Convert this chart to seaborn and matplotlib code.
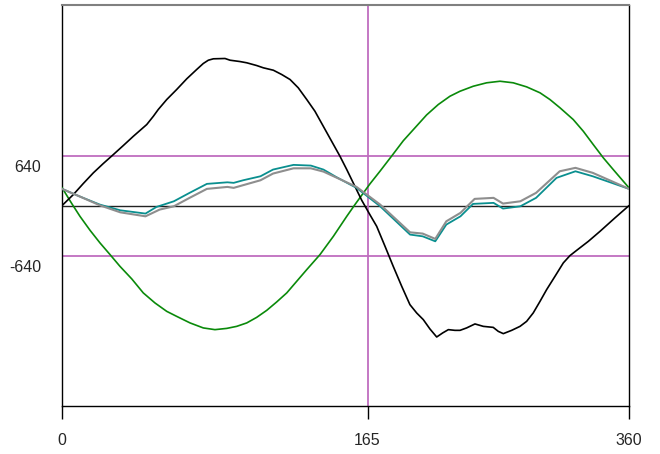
import numpy as np
import matplotlib
matplotlib.use("Agg")
import matplotlib.pyplot as plt
import matplotlib.transforms as mtransforms
import seaborn as sns

# Kurven (x in Grad, y in Rohwerten)
black_x = [0, 7.2, 13.5, 19.9, 26.2, 32.6, 38.9, 45.3, 53.8, 58.0, 61.1, 66.5, 72.8,
           79.2, 85.5, 89.7, 92.9, 96.1, 103.5, 106.7, 113.0, 117.3, 123.6, 127.8,
           134.2, 139.5, 144.8, 150.0, 155.4, 160.6, 165.9, 171.2, 176.5, 180.8,
           184.9, 190.3, 195.6, 199.8, 205.1, 210.3, 215.7, 220.9, 225.2, 229.4,
           233.6, 237.9, 241.7, 245.3, 249.5, 252.7, 256.9, 262.2, 267.5, 273.8,
           277.0, 280.2, 285.5, 290.8, 295.0, 299.2, 303.5, 307.7, 313.0, 318.3,
           322.5, 326.8, 334.2, 341.6, 351.1, 360]
black_y = [0, 141, 282, 419, 538, 653, 768, 887, 1037, 1143, 1229, 1357, 1485,
           1622, 1741, 1818, 1860, 1878, 1882, 1860, 1843, 1827, 1792, 1763,
           1732, 1677, 1613, 1507, 1357, 1207, 1015, 823, 631, 461,
           291, 68, -120, -265, -521, -777, -1033, -1267, -1374, -1459,
           -1578, -1681, -1629, -1587, -1596, -1596, -1565, -1514, -1545, -1558,
           -1609, -1638, -1596, -1545, -1481, -1373, -1225, -1075, -905, -733,
           -640, -572, -457, -329, -157, 0]

green_x = [0, 6.2, 11.4, 17.8, 24.1, 30.5, 36.8, 44.3, 51.6, 59.0, 66.5, 72.8, 81.3,
           89.7, 97.1, 104.6, 110.9, 117.3, 123.6, 130.0, 136.3, 142.7, 149.0,
           155.4, 163.8, 172.3, 180.8, 186.0, 195.6, 201.9, 210.3, 216.7, 224.1,
           231.5, 238.9, 246.3, 252.7, 261.1, 269.6, 278.1, 286.5, 295.0, 303.5,
           309.8, 316.2, 324.6, 331.0, 337.3, 343.7, 350.0, 356.4, 360]
green_y = [230, 26, -137, -316, -477, -627, -777, -938, -1117, -1245, -1353, -1417,
           -1501, -1565, -1587, -1571, -1545, -1501, -1430, -1340, -1233, -1117,
           -969, -819, -627, -393, -137, 13, 280, 440, 660, 830, 995,
           1160, 1293, 1399, 1463, 1527, 1571, 1591, 1571, 1519, 1443,
           1357, 1251, 1101, 951, 781, 611, 461, 311, 227]

teal_x = [0, 11, 24, 37, 53, 60, 71, 81, 92, 105, 109, 115, 126, 134, 147, 158,
          166, 174, 183, 187, 202, 221, 229, 237, 244, 253, 261, 274, 280, 291,
          301, 314, 326, 337, 360]
teal_y = [214, 119, 13, -60, -102, -17, 55, 163, 278, 298, 291, 324, 375, 461, 521,
          512, 461, 367, 269, 227, -9, -371, -393, -457, -243, -137, 22, 35, -38,
          -9, 99, 355, 439, 375, 214]

gray_x = [0, 11, 24, 37, 53, 62, 71, 81, 92, 105, 109, 126, 134, 147, 158, 166,
          177, 187, 202, 221, 229, 237, 244, 253, 262, 274, 280, 291, 301, 316,
          326, 337, 360]
gray_y = [214, 119, 4, -86, -137, -51, -9, 99, 214, 239, 227, 324, 410, 477, 477,
          435, 333, 239, 13, -342, -358, -426, -201, -93, 86, 99, 26, 55, 163, 439,
          483, 419, 214]

# Achsen / Referenzlinien
x_ticks = [0, 194, 360]
x_labels = ["0", "165", "360"]
y_ticks = [640, -640]
y_labels = ["640", "-640"]
limit_lines = [640, -640]
marker_x = 194
y_range = 2560

MAGENTA = "#bf6dbf"

sns.set_style("white")
plt.rcParams["font.family"] = ["Liberation Sans", "DejaVu Sans"]

fig = plt.figure(figsize=(6.6, 4.54), dpi=100)
ax = fig.add_axes([62 / 660, 1 - 405.7 / 454, 567 / 660, 400.2 / 454])

# Referenzlinien
for yv in limit_lines:
    ax.axhline(yv, color=MAGENTA, linewidth=1.3, zorder=1)
ax.axhline(0, color="#222222", linewidth=1.0, zorder=1)
ax.axvline(marker_x, color=MAGENTA, linewidth=1.3, zorder=1)

# Kurven
sns.lineplot(x=green_x, y=green_y, ax=ax, color="#0a8a0a", linewidth=1.2, zorder=3)
sns.lineplot(x=black_x, y=black_y, ax=ax, color="black", linewidth=1.2, zorder=4)
sns.lineplot(x=teal_x, y=teal_y, ax=ax, color="#0a8f8f", linewidth=1.3, zorder=5)
sns.lineplot(x=gray_x, y=gray_y, ax=ax, color="#8e8e8e", linewidth=1.5, zorder=6)

ax.set_xlim(0, 360)
ax.set_ylim(-y_range, y_range)

ax.set_xticks(x_ticks)
ax.set_xticklabels(x_labels, fontsize=11.5)
ax.set_yticks(y_ticks)
ax.set_yticklabels(y_labels, fontsize=11.5)

ax.tick_params(axis="x", bottom=True, length=9.5, width=1.0, color="black", pad=10)
ax.tick_params(axis="y", left=False, length=0, pad=15)
ax.xaxis.get_major_ticks()[1].tick1line.set_color(MAGENTA)

# y-Beschriftungen etwas unterhalb der Linien
offset = mtransforms.ScaledTranslation(0, -10 / 100, fig.dpi_scale_trans)
for lbl in ax.get_yticklabels():
    lbl.set_transform(lbl.get_transform() + offset)

for side in ["left", "right", "bottom"]:
    ax.spines[side].set_color("black")
    ax.spines[side].set_linewidth(1.0)
ax.spines["top"].set_color("#808080")
ax.spines["top"].set_linewidth(1.5)

ax.set_xlabel("")
ax.set_ylabel("")
ax.grid(False)

plt.savefig("out.png", dpi=100)
plt.close()
